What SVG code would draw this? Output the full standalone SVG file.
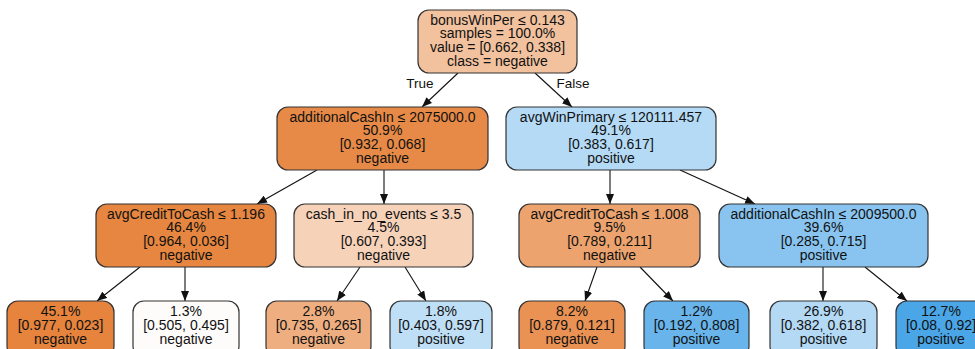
<svg xmlns="http://www.w3.org/2000/svg" width="975" height="349" viewBox="0 0 975 349">
<style>
rect.n{stroke:#333;stroke-width:1.2}
text{font-family:"Liberation Sans",Arial,sans-serif;font-size:14px;fill:#111;text-anchor:middle}
.e line{stroke:#111;stroke-width:1.1;marker-end:url(#ah)}
</style>
<defs>
<marker id="ah" markerUnits="userSpaceOnUse" markerWidth="11" markerHeight="8" refX="10" refY="4" orient="auto" viewBox="0 0 11 8">
<path d="M0,0 L10,4 L0,8 z" fill="#111"/>
</marker>
</defs>
<rect width="975" height="349" fill="#fff"/>
<g class="e" id="edges">
<line x1="458" y1="73" x2="422" y2="107"/>
<line x1="535" y1="73" x2="572" y2="107"/>
<line x1="317" y1="170" x2="257" y2="204"/>
<line x1="384" y1="170" x2="384" y2="204"/>
<line x1="610" y1="170" x2="610" y2="204"/>
<line x1="680" y1="170" x2="755" y2="204"/>
<line x1="140" y1="267" x2="97" y2="301"/>
<line x1="185" y1="267" x2="185" y2="301"/>
<line x1="360" y1="267" x2="337" y2="301"/>
<line x1="405" y1="267" x2="426" y2="301"/>
<line x1="597" y1="267" x2="585" y2="301"/>
<line x1="640" y1="267" x2="673" y2="301"/>
<line x1="823" y1="267" x2="823" y2="301"/>
<line x1="865" y1="267" x2="907" y2="301"/>
<text x="420" y="88" style="font-size:13.5px">True</text>
<text x="573" y="88" style="font-size:13.5px">False</text>
</g>
<g id="n0">
<rect class="n" x="418" y="10" width="159" height="63" rx="11" fill="#f2c19e"/>
<text x="497.5" y="24.5">bonusWinPer ≤ 0.143</text>
<text x="497.5" y="38.2">samples = 100.0%</text>
<text x="497.5" y="51.8">value = [0.662, 0.338]</text>
<text x="497.5" y="65.5">class = negative</text>
</g>
<g id="n1">
<rect class="n" x="277" y="107" width="211" height="63" rx="11" fill="#e78a47"/>
<text x="382.5" y="121.5">additionalCashIn ≤ 2075000.0</text>
<text x="382.5" y="135.2">50.9%</text>
<text x="382.5" y="148.8">[0.932, 0.068]</text>
<text x="382.5" y="162.5">negative</text>
</g>
<g id="n2">
<rect class="n" x="506" y="107" width="210" height="63" rx="11" fill="#b4daf5"/>
<text x="611" y="121.5">avgWinPrimary ≤ 120111.457</text>
<text x="611" y="135.2">49.1%</text>
<text x="611" y="148.8">[0.383, 0.617]</text>
<text x="611" y="162.5">positive</text>
</g>
<g id="n3">
<rect class="n" x="96" y="204" width="180" height="63" rx="11" fill="#e68640"/>
<text x="186" y="218.5">avgCreditToCash ≤ 1.196</text>
<text x="186" y="232.2">46.4%</text>
<text x="186" y="245.8">[0.964, 0.036]</text>
<text x="186" y="259.5">negative</text>
</g>
<g id="n4">
<rect class="n" x="294" y="204" width="179" height="63" rx="11" fill="#f6d2b9"/>
<text x="383.5" y="218.5">cash_in_no_events ≤ 3.5</text>
<text x="383.5" y="232.2">4.5%</text>
<text x="383.5" y="245.8">[0.607, 0.393]</text>
<text x="383.5" y="259.5">negative</text>
</g>
<g id="n5">
<rect class="n" x="519" y="204" width="181" height="63" rx="11" fill="#eca36e"/>
<text x="609.5" y="218.5">avgCreditToCash ≤ 1.008</text>
<text x="609.5" y="232.2">9.5%</text>
<text x="609.5" y="245.8">[0.789, 0.211]</text>
<text x="609.5" y="259.5">negative</text>
</g>
<g id="n6">
<rect class="n" x="719" y="204" width="209" height="63" rx="11" fill="#88c4ef"/>
<text x="823.5" y="218.5">additionalCashIn ≤ 2009500.0</text>
<text x="823.5" y="232.2">39.6%</text>
<text x="823.5" y="245.8">[0.285, 0.715]</text>
<text x="823.5" y="259.5">positive</text>
</g>
<g id="n7">
<rect class="n" x="7" y="301" width="107" height="56" rx="11" fill="#e6843e"/>
<text x="60.5" y="316">45.1%</text>
<text x="60.5" y="329.8">[0.977, 0.023]</text>
<text x="60.5" y="343.5">negative</text>
</g>
<g id="n8">
<rect class="n" x="133" y="301" width="106" height="56" rx="11" fill="#fefcfa"/>
<text x="186" y="316">1.3%</text>
<text x="186" y="329.8">[0.505, 0.495]</text>
<text x="186" y="343.5">negative</text>
</g>
<g id="n9">
<rect class="n" x="266" y="301" width="105" height="56" rx="11" fill="#eeae80"/>
<text x="318.5" y="316">2.8%</text>
<text x="318.5" y="329.8">[0.735, 0.265]</text>
<text x="318.5" y="343.5">negative</text>
</g>
<g id="n10">
<rect class="n" x="390" y="301" width="102" height="56" rx="11" fill="#bfdff7"/>
<text x="441" y="316">1.8%</text>
<text x="441" y="329.8">[0.403, 0.597]</text>
<text x="441" y="343.5">positive</text>
</g>
<g id="n11">
<rect class="n" x="519" y="301" width="106" height="56" rx="11" fill="#e99254"/>
<text x="572" y="316">8.2%</text>
<text x="572" y="329.8">[0.879, 0.121]</text>
<text x="572" y="343.5">negative</text>
</g>
<g id="n12">
<rect class="n" x="644" y="301" width="105" height="56" rx="11" fill="#68b4eb"/>
<text x="696.5" y="316">1.2%</text>
<text x="696.5" y="329.8">[0.192, 0.808]</text>
<text x="696.5" y="343.5">positive</text>
</g>
<g id="n13">
<rect class="n" x="770" y="301" width="107" height="56" rx="11" fill="#b3d9f5"/>
<text x="823.5" y="316">26.9%</text>
<text x="823.5" y="329.8">[0.382, 0.618]</text>
<text x="823.5" y="343.5">positive</text>
</g>
<g id="n14">
<rect class="n" x="896" y="301" width="91" height="56" rx="11" fill="#4aa6e7"/>
<text x="941" y="316">12.7%</text>
<text x="941" y="329.8">[0.08, 0.92]</text>
<text x="941" y="343.5">positive</text>
</g>
</svg>
